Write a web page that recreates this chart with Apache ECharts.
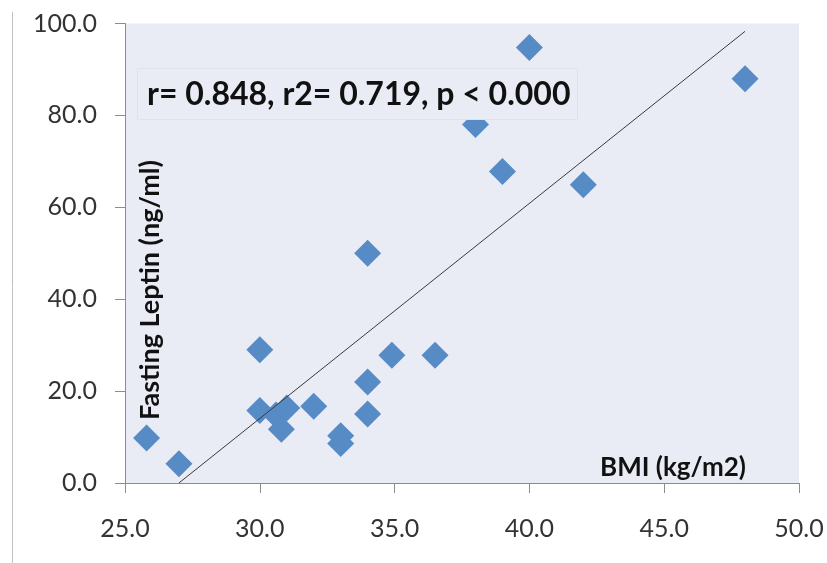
<!DOCTYPE html>
<html>
<head>
<meta charset="utf-8">
<script src="https://cdn.jsdelivr.net/npm/echarts@6/dist/echarts.min.js"></script>
<style>html,body{margin:0;padding:0;background:#fff}#c{width:827px;height:563px}</style>
</head>
<body>
<div id="c"></div>
<script>
const bmi = [25.8, 27.0, 30.0, 30.0, 30.6, 31.0, 30.8, 32.0, 33.0, 33.0, 34.0, 34.0, 34.0, 34.9, 36.5, 38.0, 39.0, 40.0, 42.0, 48.0];
const leptin = [9.8, 4.2, 29.0, 15.8, 14.8, 16.3, 11.7, 16.7, 10.3, 8.6, 15.0, 22.0, 50.0, 27.8, 27.8, 78.0, 67.8, 94.8, 64.9, 88.0];
const trendX = [27.0, 48.0];
const trendY = [0.0, 98.3];
const xTicks = ['25.0','30.0','35.0','40.0','45.0','50.0'];
const statsText = 'r= 0.848, r2= 0.719, p < 0.000';
const xName = 'BMI (kg/m2)';
const yName = 'Fasting Leptin (ng/ml)';

const chart = echarts.init(document.getElementById('c'), null, {renderer: 'canvas'});
const FONT = 'Lato, "Open Sans", sans-serif';
const axisLineStyle = {color: '#8c8c8c', width: 1};
chart.setOption({
  animation: false,
  grid: {left: 125, right: 28, top: 23.5, bottom: 80, show: true, backgroundColor: '#e9ecf4', borderWidth: 0},
  xAxis: {
    type: 'value', min: 25, max: 50, interval: 5,
    axisLine: {show: true, lineStyle: axisLineStyle},
    axisTick: {show: true, length: 10, lineStyle: axisLineStyle},
    splitLine: {show: false},
    axisLabel: {color: '#333', fontSize: 25, fontFamily: FONT, margin: 33, formatter: v => v.toFixed(1)}
  },
  yAxis: {
    type: 'value', min: 0, max: 100, interval: 20,
    axisLine: {show: true, lineStyle: axisLineStyle},
    axisTick: {show: true, length: 10, lineStyle: axisLineStyle},
    splitLine: {show: false},
    axisLabel: {color: '#333', fontSize: 25, fontFamily: FONT, margin: 28, formatter: v => v.toFixed(1)}
  },
  series: [
    {
      type: 'line', data: trendX.map((x, i) => [x, trendY[i]]),
      symbol: 'none', lineStyle: {color: '#3a3a3a', width: 1}, z: 3
    },
    {
      type: 'scatter', data: bmi.map((x, i) => [x, leptin[i]]),
      symbol: 'diamond', symbolSize: 27,
      itemStyle: {color: '#568bc6', opacity: 1}, z: 2
    }
  ],
  graphic: [
    {type: 'line', shape: {x1: 12.5, y1: 12, x2: 12.5, y2: 563}, style: {stroke: '#c0c0c0', lineWidth: 1}},
    {type: 'rect', shape: {x: 137.5, y: 68.5, width: 440, height: 51}, style: {fill: '#e9ecf4', stroke: '#dbe3ee', lineWidth: 1}, z: 10},
    {type: 'text', x: 147, y: 95, style: {text: statsText, font: 'bold 32px ' + FONT, fill: '#111', textVerticalAlign: 'middle'}, z: 11},
    {type: 'text', x: 150, y: 290, rotation: Math.PI / 2, style: {text: yName, font: 'bold 27px ' + FONT, fill: '#111', align: 'center', verticalAlign: 'middle'}, z: 11},
    {type: 'text', x: 673, y: 468, style: {text: xName, font: 'bold 26px ' + FONT, fill: '#111', align: 'center', verticalAlign: 'middle'}, z: 11}
  ]
});
</script>
</body>
</html>
